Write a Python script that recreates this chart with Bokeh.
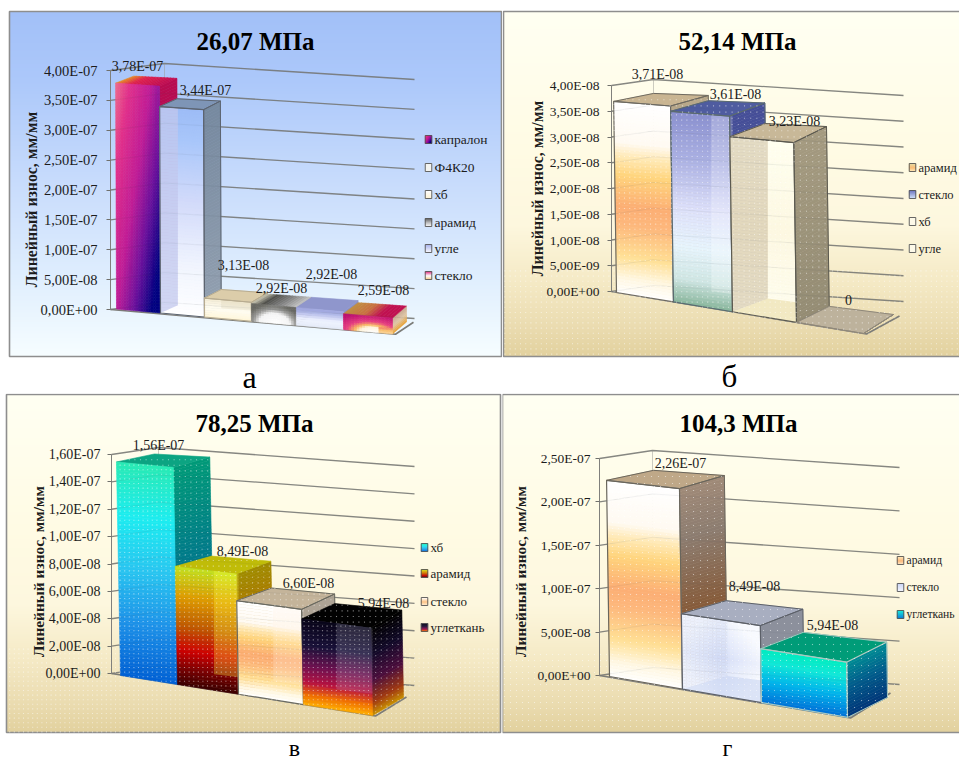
import numpy as np
from bokeh.core.properties import value
from bokeh.embed import file_html
from bokeh.layouts import column, row
from bokeh.models import ColumnDataSource, CustomJSTickFormatter, FixedTicker, Range1d
from bokeh.plotting import figure
from bokeh.resources import INLINE

# ---- wear values per contact pressure ----
titles = ["26,07 МПа", "52,14 МПа", "78,25 МПа", "104,3 МПа"]
captions = ["а", "б", "в", "г"]
y_label = "Линейный износ, мм/мм"

a_series = ["капралон", "Ф4К20", "хб", "арамид", "угле", "стекло"]
a_values = [3.78e-7, 3.44e-7, 3.13e-8, 2.92e-8, 2.92e-8, 2.59e-8]
a_ticks = [0, 5e-8, 1e-7, 1.5e-7, 2e-7, 2.5e-7, 3e-7, 3.5e-7, 4e-7]

b_series = ["арамид", "стекло", "хб", "угле"]
b_values = [3.71e-8, 3.61e-8, 3.23e-8, 0]
b_ticks = [0, 5e-9, 1e-8, 1.5e-8, 2e-8, 2.5e-8, 3e-8, 3.5e-8, 4e-8]

c_series = ["хб", "арамид", "стекло", "углеткань"]
c_values = [1.56e-7, 8.49e-8, 6.60e-8, 5.94e-8]
c_ticks = [0, 2e-8, 4e-8, 6e-8, 8e-8, 1e-7, 1.2e-7, 1.4e-7, 1.6e-7]

d_series = ["арамид", "стекло", "углеткань"]
d_values = [2.26e-7, 8.49e-8, 5.94e-8]
d_ticks = [0, 5e-8, 1e-7, 1.5e-7, 2e-7, 2.5e-7]


# ---- colour helpers ----
def rgb(h):
    return np.array([int(h[i:i + 2], 16) for i in (1, 3, 5)], dtype=float)


def ramp(stops, t):
    t = min(max(t, 0.0), 1.0)
    for (t0, c0), (t1, c1) in zip(stops, stops[1:]):
        if t <= t1:
            k = 0 if t1 == t0 else (t - t0) / (t1 - t0)
            c = rgb(c0) * (1 - k) + rgb(c1) * k
            return "#%02x%02x%02x" % tuple(int(round(x)) for x in c)
    return stops[-1][1]


def vert(*stops):
    return dict(stops=list(stops), fn=lambda u, v: v, nu=1)


def horiz(*stops):
    return dict(stops=list(stops), fn=lambda u, v: u, nu=14, nv=1)


def flat(c):
    return dict(stops=[(0, c), (1, c)], fn=lambda u, v: 0, nu=1, nv=1)


def custom(fn, *stops, nu=18):
    return dict(stops=list(stops), fn=fn, nu=nu)


PEACH = vert((0, "#ffffff"), (.08, "#fff8e4"), (.2, "#ffdf94"), (.36, "#fdb87c"), (.46, "#fcae74"),
             (.62, "#ffd47c"), (.72, "#ffeab8"), (.79, "#fffaf2"), (1, "#ffffff"))

BAR_STYLE = {
    "a": [
        dict(front=custom(lambda u, v: .62 * u + .5 * (1 - v), (0, "#ee6c8c"), (.2, "#e2308a"), (.5, "#c01c96"),
                          (.75, "#6a109c"), (1, "#000080")),
             side=vert((0, "#b01060"), (1, "#b80c50")),
             top=horiz((0, "#e89020"), (.35, "#e0204c"), (1, "#c00c50")), edge=None),
        dict(front=vert((0, "#ffffff"), (.25, "#f0f4fe"), (.55, "#d2dafa"), (.85, "#a8c6fa"), (1, "#9cbcf6")),
             side=vert((0, "#93a0b0"), (1, "#76899f")), top=flat("#7e95b6"),
             left=("#c2c8ee", .75), edge="#5c6470"),
        dict(front=vert((0, "#fff6d8"), (.5, "#fffdf2"), (1, "#f4ecd4")), side=flat("#d4c8a8"), top=flat("#dccdaa"),
             back=("#d8ccae", .3), edge="#b8ac90"),
        dict(front=custom(lambda u, v: ((u - .52) ** 2 * 2.6 + (v * .95) ** 2) ** .5, (0, "#ffffff"), (.55, "#f4f4f4"),
                          (.75, "#9a9a98"), (1, "#6a6a64")),
             side=flat("#888880"), top=horiz((0, "#c8c6b4"), (.25, "#50504c"), (.6, "#808080"), (1, "#c4c4c4")), edge=None),
        dict(front=vert((0, "#e4eaf8"), (.4, "#f0f4ff"), (.75, "#b8bfec"), (1, "#9aa2dc")), side=flat("#8a92c8"),
             top=flat("#8f96cc"), edge=None),
        dict(front=custom(lambda u, v: ((u - .6) ** 2 * 1.3 + (v * .9) ** 2) ** .5 if v > .35 or u < .75 else .35 + .6 * abs(v - .1),
                          (0, "#ffffff"), (.3, "#fff4dc"), (.42, "#f8b860"), (.6, "#e84080"), (1, "#c01070")),
             side=vert((0, "#e8a030"), (.5, "#e0c8a8"), (1, "#c8a890")),
             top=horiz((0, "#c09040"), (.4, "#c87040"), (.7, "#c01050"), (1, "#c01050")), edge=None),
    ],
    "b": [
        dict(front=PEACH, side=flat("#b8a88a"), top=flat("#c9b592"), edge="#6e6a60"),
        dict(front=vert((0, "#86b49a"), (.13, "#cfe6e4"), (.3, "#e6f4fc"), (.5, "#dde0fa"), (.75, "#acb2e4"), (1, "#8a90d0")),
             side=vert((0, "#4a5898"), (1, "#464f98")), top=flat("#4f5ca0"),
             back=("#ffffff", .22), edge="#5a6a70"),
        dict(front=vert((0, "#fffef0"), (.5, "#fdf8e2"), (1, "#fffff0")),
             side=vert((0, "#948c74"), (1, "#a49a80")), top=flat("#c8b898"),
             left=("#c8b898", .5), floor=("#e8d8a0", .55), edge="#5c5a50"),
        dict(front=flat("#bdb29c"), side=flat("#bdb29c"), top=flat("#bdb29c"), edge="#8f887a"),
    ],
    "c": [
        dict(front=vert((0, "#0060d4"), (.25, "#1c90e8"), (.5, "#28c4f0"), (.75, "#1cecf0"), (1, "#28eab4")),
             side=vert((0, "#0068a8"), (.6, "#007c88"), (1, "#009a78")), top=flat("#0ca482"), edge=None),
        dict(front=vert((0, "#380000"), (.12, "#700000"), (.3, "#d00000"), (.5, "#c05800"), (.75, "#e09c00"), (1, "#c4e020")),
             side=vert((0, "#c05000"), (.55, "#b07000"), (1, "#a08c00")), top=flat("#c0bc08"),
             back=("#ffff40", .3), edge=None),
        dict(front=PEACH, side=flat("#ada394"), top=flat("#c4b49a"), back=("#fff0e0", .25), edge="#6a6a60"),
        dict(front=vert((0, "#ffb000"), (.12, "#f07000"), (.27, "#b81040"), (.45, "#701050"), (.7, "#181038"), (1, "#080418")),
             side=vert((0, "#c89000"), (.15, "#a03810"), (.4, "#4a0c3c"), (.7, "#100828"), (1, "#000000")),
             top=flat("#020202"), back=("#c0c0d0", .2), edge=None),
    ],
    "d": [
        dict(front=PEACH, side=vert((0, "#a06028"), (.4, "#865c3c"), (.75, "#8c7c70"), (1, "#a08a78")),
             top=flat("#bfa888"), edge="#6a665c"),
        dict(front=custom(lambda u, v: abs(u - .5) * .7 + abs(v - .5) * .7 + .1, (0, "#ccd6f6"), (.3, "#e4eafb"), (.6, "#f8faff")),
             side=flat("#8c909c"), top=flat("#a8aec0"), left=("#c8d2f0", .25), floor=("#c0cef0", .5), edge="#5c6068"),
        dict(front=vert((0, "#0070d8"), (.4, "#00b4ec"), (.75, "#10e8d8"), (1, "#00ecc0")),
             side=vert((0, "#003478"), (.55, "#005c8c"), (1, "#008c94")), top=flat("#009c78"), edge="#a8c8c0"),
    ],
}

# Swatches shown beside the legend entries
LEGEND_FILL = {
    "a": [BAR_STYLE["a"][0]["front"], flat("#f4f4f0"),
          vert((0, "#fff0cc"), (1, "#ffffff")),
          vert((0, "#ffffff"), (.5, "#c0c0c0"), (1, "#606060")),
          vert((0, "#ffffff"), (1, "#a8b0ec")),
          vert((0, "#f8c070"), (.5, "#ffffff"), (1, "#e03080"))],
    "b": [vert((0, "#fff0c0"), (.5, "#fbb870"), (1, "#e8d8a0")),
          vert((0, "#d8e8ff"), (1, "#6a72c0")), flat("#fdf9e8"), flat("#fdf9e8")],
    "c": [BAR_STYLE["c"][0]["front"], BAR_STYLE["c"][1]["front"],
          vert((0, "#fff4e0"), (.5, "#fdc080"), (1, "#ffffff")), BAR_STYLE["c"][3]["front"]],
    "d": [vert((0, "#fff0d0"), (.5, "#fcb474"), (1, "#ffe8b8")),
          vert((0, "#f4f6ff"), (1, "#ccd6f6")),
          vert((0, "#0070d8"), (1, "#10e8d8"))],
}

CREAM = [(0, "#e2d19e"), (.08, "#eadbaf"), (.22, "#f5eac6"), (.38, "#fdf7de"), (.6, "#fffbe4"), (1, "#fffff2")]
SKY = [(0, "#f6fdff"), (.2, "#e2f0fe"), (.5, "#c8dcfc"), (.8, "#acc8fa"), (1, "#a2c0f8")]

# ---- geometry of each panel, in pixels of the page ----
PANELS = {
    "a": dict(i=0, series=a_series, values=a_values, ticks=a_ticks, origin=(0, 0), size=(502, 393),
              rect=(9, 11, 501, 356), bg=SKY, zero=309, top=70, axis_x=110, label_gap=13, tick_font=14.5,
              edges=[116, 160, 204, 251, 296, 343, 392], base=(116, 308.5, .0906), gain=.0001, skew=.004,
              depth=((18, -7), (14, -12)), wall=(54, -7, 250, 16), floor=(18, -12), dots=None,
              title_xy=(255, 41), ylab_xy=(31, 199), ylab_font=15.8, cap_xy=(249, 376), cap_font=32,
              labels=[(137, 66), (205, 90), (243, 265), (281, 288), (331, 274), (383, 290)],
              leg_x=428, leg_y=[139, 167, 194, 222, 248, 275], leg_font=13.5),
    "b": dict(i=1, series=b_series, values=b_values, ticks=b_ticks, origin=(502, 0), size=(457, 393),
              rect=(503, 11, 962, 356), bg=CREAM, zero=291, top=85, axis_x=611, label_gap=12, tick_font=13.5,
              edges=[616, 673, 732, 796, 863], base=(616, 292, .166), gain=.00045, skew=.015,
              depth=((40, -8), (30, -19)), wall=(42, -6, 250, 16), floor=(33, -18), dots=(5.2, 268),
              title_xy=(737, 41), ylab_xy=(537, 188), ylab_font=15.8, cap_xy=(729, 376), cap_font=31,
              labels=[(657, 74), (735, 94), (794, 121), (848, 299)],
              leg_x=912, leg_y=[167, 194, 221, 248], leg_font=12.5),
    "c": dict(i=2, series=c_series, values=c_values, ticks=c_ticks, origin=(0, 393), size=(502, 367),
              rect=(6, 394, 500, 732), bg=CREAM, zero=673, top=454, axis_x=111, label_gap=11, tick_font=14,
              edges=[120, 177, 238, 303, 372], base=(120, 675, .159), gain=.0003, skew=.019,
              depth=((38, -8), (31, -18)), wall=(47, -7, 256, 19), floor=(31, -19), dots=(4.6, 645),
              title_xy=(254, 423), ylab_xy=(38, 571), ylab_font=15.4, cap_xy=(294, 747), cap_font=24,
              labels=[(158, 445), (242, 551), (308, 583), (383, 603)],
              leg_x=424, leg_y=[547, 573, 601, 627], leg_font=13),
    "d": dict(i=3, series=d_series, values=d_values, ticks=d_ticks, origin=(502, 393), size=(457, 367),
              rect=(502, 394, 962, 732), bg=CREAM, zero=675, top=458, axis_x=599, label_gap=9, tick_font=13.5,
              edges=[609, 682, 761, 847], base=(609, 676, .172), gain=.0003, skew=.015,
              depth=((47, -10), (40, -20)), wall=(53, -8, 247, 17), floor=(40, -25), dots=(6, 650),
              title_xy=(738, 423), ylab_xy=(520, 571), ylab_font=15.4, cap_xy=(727, 747), cap_font=24,
              labels=[(680, 463), (754, 586), (832, 625)],
              leg_x=900, leg_y=[560, 587, 614], leg_font=11.6),
}

SERIF = "Liberation Serif"
TICK_JS = r"""
const s = tick.toExponential(2).replace('.', ',').toUpperCase();
return s.replace(/E([+-])(\d)$/, (m, sign, d) => 'E' + sign + '0' + d);
"""


def value_text(v):
    return "0" if v == 0 else f"{v:.2E}".replace(".", ",")


def inside(px, py, poly):
    """Ray-casting test of many points against one polygon."""
    res = np.zeros(px.shape, dtype=bool)
    n = len(poly)
    for i in range(n):
        x0, y0 = poly[i]
        x1, y1 = poly[(i + 1) % n]
        if y0 == y1:
            continue
        cross = ((y0 > py) != (y1 > py)) & (px < (x1 - x0) * (py - y0) / (y1 - y0) + x0)
        res ^= cross
    return res


def build_panel(key):
    cfg = PANELS[key]
    ox, oy = cfg["origin"]
    w, h = cfg["size"]
    vmax = cfg["ticks"][-1]
    unit = vmax / (cfg["zero"] - cfg["top"])  # wear units per pixel

    def to_y(py):
        return (cfg["zero"] - py) * unit

    p = figure(width=w, height=h, output_backend="svg", toolbar_location=None, min_border=0,
               x_range=Range1d(0, w), y_range=Range1d(to_y(oy + h), to_y(oy)),
               x_axis_location=None, outline_line_color=None, background_fill_color="white")
    p.grid.visible = False

    # panel background
    x0, y0, x1, y1 = cfg["rect"]
    rows = y1 - y0
    img = np.zeros((rows, 2), dtype=np.uint32)
    view = img.view(np.uint8).reshape(rows, 2, 4)
    for r in range(rows):
        view[r, :, :3] = rgb(ramp(cfg["bg"], r / (rows - 1)))
        view[r, :, 3] = 255
    p.image_rgba(image=[img], x=x0 - ox, y=to_y(y1), dw=x1 - x0, dh=to_y(y0) - to_y(y1))
    p.patch([x0 - ox, x1 - ox, x1 - ox, x0 - ox], [to_y(y0), to_y(y0), to_y(y1), to_y(y1)],
            fill_alpha=0, line_color="#8e8e8e", line_width=1.6)

    # back and side walls: one line per axis tick
    ax = cfg["axis_x"]
    wdx, wdy, bdx, bdy = cfg["wall"]
    gx, gy = [], []
    for t in cfg["ticks"]:
        py = cfg["zero"] - t / unit
        gx.append([ax - ox, ax + wdx - ox, ax + wdx + bdx - ox])
        gy.append([to_y(py), to_y(py + wdy), to_y(py + wdy + bdy)])
    p.multi_line(gx, gy, line_color="#777772", line_width=1.3, line_alpha=.85)
    p.segment(ax + wdx - ox, to_y(cfg["zero"] + wdy), ax + wdx - ox, to_y(cfg["top"] + wdy),
              line_color="#9a9a94", line_width=1, line_alpha=.5)

    # floor outline
    xb, yb, slope = cfg["base"]
    edges = cfg["edges"]

    def base(x):
        return yb + slope * (x - xb)

    xe = edges[-1] + 3
    fdx, fdy = cfg["floor"]
    p.line([ax - ox, xe - ox, xe + fdx - ox], [to_y(cfg["zero"]), to_y(base(xe)), to_y(base(xe) + fdy)],
           line_color="#7c7c78", line_width=1.6)

    # bars: every face is a stack of thin tinted cells drawn back to front
    cells = dict(xs=[], ys=[], fill_color=[], fill_alpha=[], line_color=[], line_alpha=[], line_width=[])
    dots = (np.zeros(0), np.zeros(0))
    dot_cfg = cfg["dots"]

    def add_patch(poly, fill, alpha=1.0, line=None, lw=.6, la=1.0):
        cells["xs"].append([q[0] - ox for q in poly])
        cells["ys"].append([to_y(q[1]) for q in poly])
        cells["fill_color"].append(fill)
        cells["fill_alpha"].append(alpha)
        cells["line_color"].append(line if line else fill)
        cells["line_alpha"].append(la if line else (alpha if alpha == 1 else 0))
        cells["line_width"].append(lw)

    def add_face(bl, br, tr, tl, spec, spacing=None):
        nonlocal dots
        bl, br, tr, tl = [np.array(q, dtype=float) for q in (bl, br, tr, tl)]
        span = max(np.linalg.norm(tl - bl), np.linalg.norm(tr - br))
        nv = spec.get("nv") or max(8, int(span / 3))
        nu = spec.get("nu", 1)

        def at(u, v):
            return (bl * (1 - u) + br * u) * (1 - v) + (tl * (1 - u) + tr * u) * v

        for i in range(nu):
            for j in range(nv):
                u0, u1, v0, v1 = i / nu, (i + 1) / nu, j / nv, (j + 1) / nv
                c = ramp(spec["stops"], spec["fn"]((u0 + u1) / 2, (v0 + v1) / 2))
                add_patch([at(u0, v0), at(u1, v0), at(u1, v1), at(u0, v1)], c)
        if dot_cfg:
            poly = [bl, br, tr, tl]
            keep = ~inside(dots[0], dots[1], poly)
            dots = (dots[0][keep], dots[1][keep])
            if spacing:
                xs_, ys_ = dot_grid(poly, spacing)
                dots = (np.r_[dots[0], xs_], np.r_[dots[1], ys_])

    def dot_grid(poly, spacing):
        arr = np.array(poly)
        gxv = np.arange(np.floor(arr[:, 0].min() / spacing), np.ceil(arr[:, 0].max() / spacing)) * spacing
        gyv = np.arange(np.floor(arr[:, 1].min() / spacing), np.ceil(arr[:, 1].max() / spacing)) * spacing
        mx, my = np.meshgrid(gxv, gyv)
        mx, my = mx.ravel(), my.ravel()
        m = inside(mx, my, poly)
        return mx[m], my[m]

    if dot_cfg:
        sp, start_y = dot_cfg
        dots = dot_grid([(x0, start_y), (x1, start_y), (x1, y1), (x0, y1)], sp)

    def depth_at(x):
        (ax_, ay_), (bx_, by_) = cfg["depth"]
        k = (x - edges[0]) / (edges[-1] - edges[0])
        return ax_ + (bx_ - ax_) * k, ay_ + (by_ - ay_) * k

    def height(x, val):
        return val / unit * (1 + cfg["gain"] * (x - xb))

    styles = BAR_STYLE[key]
    for n, val in enumerate(cfg["values"]):
        st = styles[n]
        xl, xr = edges[n], edges[n + 1]
        hl, hr = height(xl, val), height(xr, val)
        dlx, dly = depth_at(xl)
        drx, dry = depth_at(xr)
        fl_b, fr_b = (xl, base(xl)), (xr, base(xr))
        fl_t = (xl - cfg["skew"] * hl, base(xl) - hl)
        fr_t = (xr - cfg["skew"] * hr, base(xr) - hr)
        bl_b, br_b = (xl + dlx, base(xl) + dly), (xr + drx, base(xr) + dry)
        bl_t = (fl_t[0] + dlx, fl_t[1] + dly)
        br_t = (fr_t[0] + drx, fr_t[1] + dry)

        add_face(fr_b, br_b, br_t, fr_t, st["side"], dot_cfg[0] + 1 if dot_cfg else None)
        add_face(fl_t, fr_t, br_t, bl_t, st["top"], dot_cfg[0] + 1 if dot_cfg else None)
        add_face(fl_b, fr_b, fr_t, fl_t, st["front"], dot_cfg[0] if dot_cfg else None)

        # rear of the bar showing through its glassy front
        if val > 0:
            frac = dlx / (xr - xl)
            top_at = (fl_t[0] + (fr_t[0] - fl_t[0]) * frac, fl_t[1] + (fr_t[1] - fl_t[1]) * frac)
            inner_bottom = (bl_b[0], bl_b[1])
            inner_top = (bl_b[0], max(bl_t[1], top_at[1]))
            right_bottom = (xr, bl_b[1] + (br_b[1] - bl_b[1]) * (xr - bl_b[0]) / (br_b[0] - bl_b[0]))
            right_top = (xr, fr_t[1])
            if "left" in st:
                add_patch([fl_b, inner_bottom, inner_top, fl_t], st["left"][0], st["left"][1])
            if "floor" in st:
                add_patch([fl_b, fr_b, right_bottom, inner_bottom], st["floor"][0], st["floor"][1])
            if "back" in st:
                add_patch([inner_bottom, right_bottom, right_top, inner_top], st["back"][0], st["back"][1])

        edge = st.get("edge")
        if edge:
            add_patch([fl_b, fr_b, fr_t, fl_t], "#000000", 0, edge, 1.2)
            add_patch([fr_b, br_b, br_t, fr_t], "#000000", 0, edge, 1.0)
            add_patch([fl_t, fr_t, br_t, bl_t], "#000000", 0, edge, 1.0)

    # legend swatches
    sw_w, sw_h = 6.5, 8
    for spec, py in zip(LEGEND_FILL[key], cfg["leg_y"]):
        lx = cfg["leg_x"]
        add_face((lx - sw_w / 2, py + sw_h / 2), (lx + sw_w / 2, py + sw_h / 2),
                 (lx + sw_w / 2, py - sw_h / 2), (lx - sw_w / 2, py - sw_h / 2), spec)
        add_patch([(lx - sw_w / 2, py + sw_h / 2), (lx + sw_w / 2, py + sw_h / 2),
                   (lx + sw_w / 2, py - sw_h / 2), (lx - sw_w / 2, py - sw_h / 2)], "#000000", 0, "#555555", .9)

    p.patches("xs", "ys", source=ColumnDataSource(cells), fill_color="fill_color", fill_alpha="fill_alpha",
              line_color="line_color", line_alpha="line_alpha", line_width="line_width")

    # side-wall lines faintly visible through the tall glassy bars
    p.multi_line(gx, gy, line_color="#405060", line_width=1, line_alpha=.07)

    if dot_cfg and len(dots[0]):
        p.scatter(dots[0] - ox, [to_y(v) for v in dots[1]], marker="square", size=1.1,
                  fill_color="white", fill_alpha=.5, line_color=None)

    # value axis placed inside the panel
    axis = p.yaxis[0]
    axis.fixed_location = ax - ox
    axis.bounds = (0, vmax)
    axis.ticker = FixedTicker(ticks=cfg["ticks"])
    axis.formatter = CustomJSTickFormatter(code=TICK_JS)
    axis.minor_tick_line_color = None
    axis.major_tick_in = 0
    axis.major_tick_out = 4
    axis.major_tick_line_color = "#70706c"
    axis.axis_line_color = "#80807c"
    axis.major_label_standoff = cfg["label_gap"] - 4
    axis.major_label_text_font = SERIF
    axis.major_label_text_font_size = f"{cfg['tick_font']}px"
    axis.major_label_text_color = "#1c1c1c"

    # data labels, legend entries, titles
    lab = cfg["labels"]
    p.text([q[0] - ox for q in lab], [to_y(q[1]) for q in lab], text=[value_text(v) for v in cfg["values"]],
           text_font=value(SERIF), text_font_size="14px", text_color="#1c1c1c",
           text_align="center", text_baseline="middle")
    p.text([cfg["leg_x"] + 6 - ox] * len(cfg["series"]), [to_y(y) for y in cfg["leg_y"]], text=cfg["series"],
           text_font=value(SERIF), text_font_size=f"{cfg['leg_font']}px", text_color="#1c1c1c",
           text_align="left", text_baseline="middle")

    tx, ty = cfg["title_xy"]
    p.text([tx - ox], [to_y(ty)], text=[titles[cfg["i"]]], text_font=value(SERIF), text_font_size="25px",
           text_font_style="bold", text_color="#000000", text_align="center", text_baseline="middle")
    lx, ly = cfg["ylab_xy"]
    p.text([lx - ox], [to_y(ly)], text=[y_label], angle=np.pi / 2, text_font=value(SERIF),
           text_font_size=f"{cfg['ylab_font']}px", text_font_style="bold", text_color="#1c1c1c",
           text_align="center", text_baseline="middle")
    cx, cy = cfg["cap_xy"]
    p.text([cx - ox], [to_y(cy)], text=[captions[cfg["i"]]], text_font=value(SERIF),
           text_font_size=f"{cfg['cap_font']}px", text_color="#000000", text_align="center",
           text_baseline="middle")
    return p


page = column(row(build_panel("a"), build_panel("b")), row(build_panel("c"), build_panel("d")))
open("out.html", "w").write(file_html(page, INLINE))
